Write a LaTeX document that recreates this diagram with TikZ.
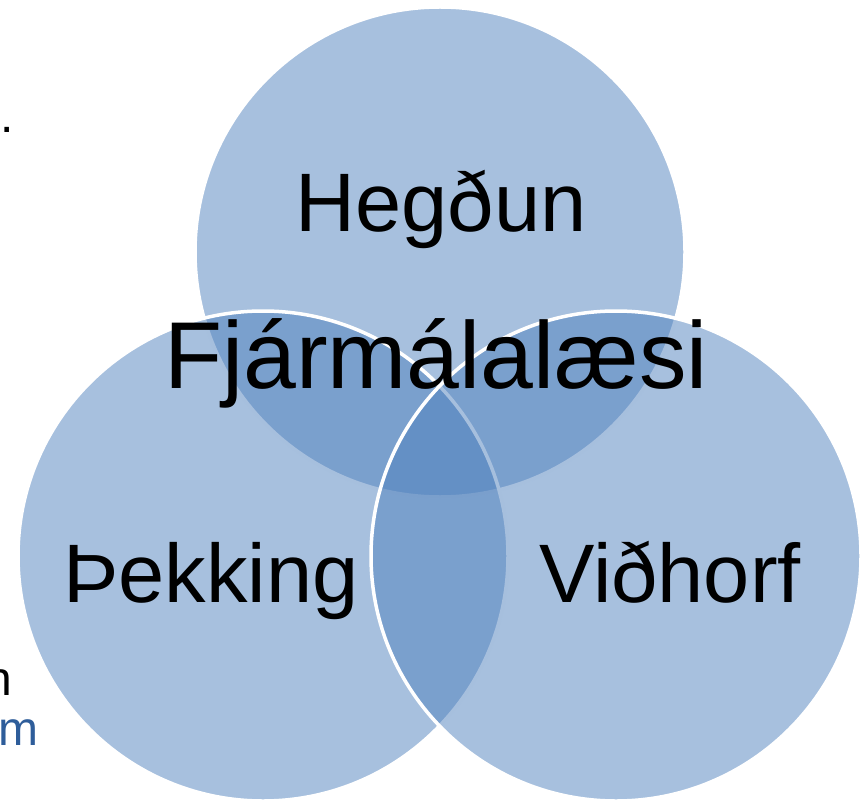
\documentclass[tikz,border=0pt]{standalone}
\usepackage{fontspec}
\setmainfont{Liberation Sans}
\definecolor{vennblue}{HTML}{4F81BD}
\definecolor{edgeblue}{HTML}{2E5D9A}
\tikzset{
  venn/.style={fill=vennblue, fill opacity=0.5, draw=white, line width=3.5pt},
  lbl/.style={anchor=base, inner sep=0pt, font=\fontsize{83}{90}\selectfont},
  bigl/.style={anchor=base, inner sep=0pt, font=\fontsize{95}{100}\selectfont},
  frag/.style={anchor=base west, inner sep=0pt, font=\fontsize{48}{54}\selectfont}
}
\begin{document}
\begin{tikzpicture}[x=1pt,y=-1pt]
\useasboundingbox (0,0) rectangle (864,802);
\clip (0,0) rectangle (864,802);
\path[venn] (440,252) circle (245pt);
\path[venn] (263,556) circle (245pt);
\path[venn] (616,556) circle (245pt);
\node[lbl] (heg) at (441,232) {Hegðun};
\node[lbl] (thek) at (211,602) {Þekking};
\node[lbl] (vid) at (670,602) {Viðhorf};
\node[bigl] (fjar) at (436,388) {Fjármálalæsi};
\node[frag] (dot) at (0,133) {.};
\node[frag] (fn) at (-15,695) {n};
\node[frag, text=edgeblue] (fm) at (-2,745) {m};
\end{tikzpicture}
\end{document}
